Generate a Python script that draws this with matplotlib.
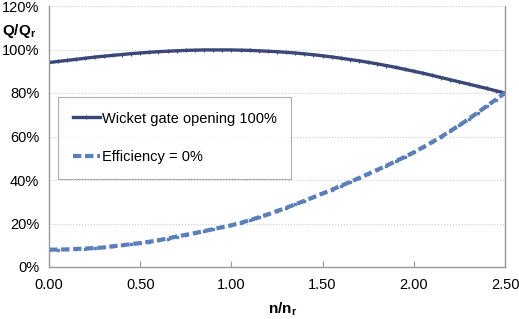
import matplotlib
matplotlib.use("Agg")
import matplotlib.pyplot as plt
import numpy as np
from matplotlib.ticker import FuncFormatter, MultipleLocator

plt.rcParams['font.family'] = ['Liberation Sans', 'DejaVu Sans']

# speed ratio n/n_r, 0.05 steps
speed = np.round(np.arange(0, 2.501, 0.05), 2)

# Q/Q_r in percent
gate_100 = [94.0, 94.5, 95.0, 95.5, 96.0, 96.5, 96.9, 97.3, 97.7, 98.1,
            98.4, 98.7, 99.0, 99.2, 99.4, 99.6, 99.7, 99.8, 99.8, 99.8,
            99.8, 99.7, 99.6, 99.4, 99.2, 99.0, 98.7, 98.4, 98.0, 97.6,
            97.1, 96.6, 96.0, 95.4, 94.8, 94.1, 93.4, 92.6, 91.8, 90.9,
            90.0, 89.1, 88.1, 87.1, 86.1, 85.1, 84.1, 83.1, 82.1, 81.0,
            80.0]
eff_zero = [8.0, 8.0, 8.1, 8.3, 8.5, 8.7, 9.0, 9.5, 10.0, 10.5,
            11.0, 11.6, 12.3, 13.1, 14.0, 14.8, 15.6, 16.5, 17.4, 18.3,
            19.2, 20.3, 21.5, 22.8, 24.2, 25.7, 27.2, 28.8, 30.4, 32.1,
            33.8, 35.5, 37.3, 39.1, 40.9, 42.8, 44.7, 46.6, 48.6, 50.6,
            52.7, 55.0, 57.4, 59.9, 62.5, 65.2, 68.0, 71.0, 74.0, 77.0,
            80.0]

fig = plt.figure(figsize=(5.19, 3.19), dpi=100)
ax = fig.add_axes([49 / 519, 1 - 267 / 319, 456 / 519, 261 / 319])

ax.plot(speed, gate_100, color='#3a4878', lw=2.4, marker='+', ms=3,
        mew=0.8, label='Wicket gate opening 100%')
ax.plot(speed, eff_zero, color='#5a7fba', lw=3.0, ls=(0, (2.0, 0.9)),
        marker='s', ms=1.5, label='Efficiency = 0%')

ax.set_xlim(0, 2.5)
ax.set_ylim(0, 120)
ax.xaxis.set_major_locator(MultipleLocator(0.5))
ax.yaxis.set_major_locator(MultipleLocator(20))
ax.xaxis.set_major_formatter(FuncFormatter(lambda v, p: f"{v:.2f}"))
ax.yaxis.set_major_formatter(FuncFormatter(lambda v, p: f"{v:.0f}%"))
ax.tick_params(axis='x', direction='in', length=4, color='#999999',
               labelsize=10.5, pad=8)
ax.tick_params(axis='y', length=0, labelsize=10.5, pad=7)

ax.grid(axis='y', color='#cccccc', ls=':', lw=0.8)
for side in ['left', 'bottom', 'right']:
    ax.spines[side].set_color('#999999')
    ax.spines[side].set_linewidth(1.0)
ax.spines['top'].set_visible(False)

fig.text(2 / 519, 1 - 31 / 319, r'Q/Q$_\mathregular{r}$', fontsize=11,
         fontweight='bold', va='center', ha='left')
fig.text(268 / 519, 1 - 309 / 319, r'n/n$_\mathregular{r}$', fontsize=11,
         fontweight='bold', va='center', ha='left')

leg = ax.legend(loc='upper left', bbox_to_anchor=(9 / 456, (267 - 97) / 261),
                fontsize=10.5, frameon=True, fancybox=False, labelspacing=1.7,
                handlelength=1.9, handletextpad=0.1, borderpad=1.0,
                borderaxespad=0)
leg.get_frame().set_edgecolor('#999999')
leg.get_frame().set_linewidth(0.8)

fig.savefig('out.png', dpi=100)
